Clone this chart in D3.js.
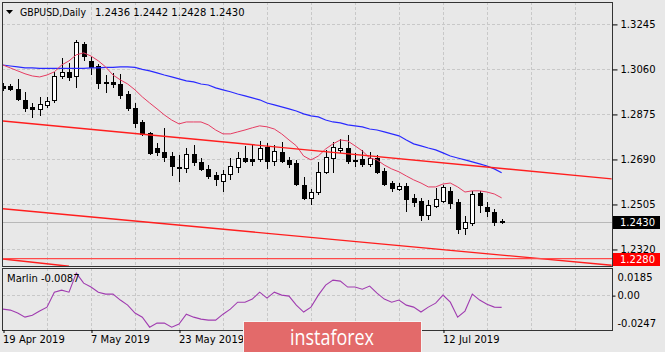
<!DOCTYPE html>
<html>
<head>
<meta charset="utf-8">
<script src="https://cdn.jsdelivr.net/npm/d3@7"></script>
<style>
body { margin: 0; background: #e8e8e8; }
text { font-family: "DejaVu Sans", sans-serif; font-size: 10px; }
</style>
</head>
<body>
<div id="chart-area"></div>
<script>
// daily GBPUSD bars, 19 Apr 2019 .. 24 Jul 2019
let opens = [1.2990,1.2990,1.2978,1.2933,1.2904,1.2896,1.2912,1.2933,1.3031,1.3048,
  1.3031,1.3163,1.3093,1.3072,1.3007,1.3007,1.2998,1.2957,1.2900,1.2842,
  1.2797,1.2735,1.2719,1.2702,1.2657,1.2653,1.2711,1.2678,1.2649,1.2624,
  1.2600,1.2628,1.2657,1.2694,1.2690,1.2690,1.2739,1.2682,1.2719,1.2686,
  1.2674,1.2583,1.2530,1.2554,1.2637,1.2694,1.2727,1.2735,1.2686,1.2690,
  1.2670,1.2694,1.2641,1.2591,1.2567,1.2579,1.2530,1.2517,1.2460,1.2497,
  1.2517,1.2559,1.2513,1.2407,1.2427,1.2550,1.2493,1.2472,1.2436];
let highs = [1.3003,1.2998,1.3019,1.2966,1.2920,1.2945,1.2945,1.3048,1.3105,1.3085,
  1.3179,1.3171,1.3109,1.3081,1.3035,1.3044,1.3040,1.2970,1.2920,1.2850,
  1.2801,1.2756,1.2818,1.2719,1.2707,1.2735,1.2748,1.2694,1.2665,1.2637,
  1.2645,1.2694,1.2719,1.2744,1.2748,1.2764,1.2756,1.2748,1.2760,1.2698,
  1.2686,1.2616,1.2567,1.2678,1.2727,1.2760,1.2772,1.2789,1.2715,1.2727,
  1.2719,1.2707,1.2653,1.2600,1.2591,1.2591,1.2546,1.2530,1.2522,1.2571,
  1.2583,1.2575,1.2526,1.2456,1.2559,1.2559,1.2513,1.2485,1.2442];
let lows = [1.2974,1.2974,1.2933,1.2887,1.2863,1.2871,1.2904,1.2924,1.3023,1.3015,
  1.2986,1.3097,1.3040,1.2982,1.2966,1.2986,1.2941,1.2892,1.2822,1.2789,
  1.2711,1.2707,1.2682,1.2624,1.2600,1.2637,1.2665,1.2645,1.2612,1.2583,
  1.2559,1.2608,1.2637,1.2678,1.2665,1.2682,1.2653,1.2665,1.2678,1.2657,
  1.2583,1.2526,1.2505,1.2546,1.2633,1.2637,1.2719,1.2674,1.2661,1.2661,
  1.2661,1.2633,1.2583,1.2559,1.2563,1.2476,1.2497,1.2439,1.2444,1.2493,
  1.2513,1.2489,1.2386,1.2382,1.2419,1.2472,1.2456,1.2419,1.2428];
let closes = [1.2982,1.2978,1.2937,1.2900,1.2896,1.2916,1.2929,1.3031,1.3048,1.3027,
  1.3171,1.3113,1.3068,1.3003,1.3003,1.2998,1.2953,1.2900,1.2838,1.2793,
  1.2715,1.2719,1.2698,1.2661,1.2653,1.2711,1.2678,1.2649,1.2620,1.2608,
  1.2628,1.2661,1.2694,1.2682,1.2682,1.2735,1.2682,1.2723,1.2682,1.2670,
  1.2587,1.2530,1.2554,1.2637,1.2698,1.2739,1.2735,1.2682,1.2682,1.2670,
  1.2694,1.2637,1.2587,1.2571,1.2579,1.2526,1.2513,1.2460,1.2501,1.2526,
  1.2575,1.2509,1.2402,1.2431,1.2546,1.2501,1.2476,1.2431,1.2430];

// moving averages
let fastMA = [1.3076,1.3064,1.3052,1.3040,1.3031,1.3027,1.3035,1.3048,1.3076,1.3093,
  1.3118,1.3126,1.3113,1.3093,1.3068,1.3035,1.3015,1.2998,1.2974,1.2945,
  1.2920,1.2896,1.2871,1.2850,1.2834,1.2842,1.2842,1.2842,1.2830,1.2809,
  1.2793,1.2793,1.2801,1.2809,1.2818,1.2826,1.2822,1.2813,1.2793,1.2768,
  1.2744,1.2702,1.2686,1.2702,1.2731,1.2752,1.2768,1.2764,1.2744,1.2723,
  1.2694,1.2686,1.2665,1.2649,1.2637,1.2620,1.2604,1.2591,1.2575,1.2575,
  1.2587,1.2591,1.2575,1.2554,1.2559,1.2559,1.2554,1.2546,1.2530];
let slowMA = [1.3076,1.3072,1.3068,1.3064,1.3064,1.3062,1.3062,1.3062,1.3062,1.3062,
  1.3062,1.3062,1.3064,1.3064,1.3066,1.3066,1.3068,1.3068,1.3066,1.3058,
  1.3052,1.3044,1.3035,1.3027,1.3019,1.3011,1.3007,1.2998,1.2994,1.2982,
  1.2974,1.2966,1.2957,1.2949,1.2941,1.2933,1.2920,1.2912,1.2904,1.2896,
  1.2887,1.2875,1.2867,1.2863,1.2850,1.2842,1.2838,1.2830,1.2826,1.2822,
  1.2813,1.2809,1.2801,1.2793,1.2785,1.2768,1.2752,1.2744,1.2735,1.2727,
  1.2715,1.2702,1.2694,1.2686,1.2678,1.2670,1.2661,1.2649,1.2633];

// Marlin oscillator
let marlin = [-0.0099,-0.0106,-0.0127,-0.0156,-0.0142,-0.0113,-0.0085,0.0021,0.0035,0.0021,
  0.0156,0.0085,0.0057,0.0021,0.0007,0.0007,-0.0035,-0.0071,-0.0127,-0.0156,
  -0.0227,-0.0198,-0.0198,-0.0227,-0.0205,-0.0135,-0.0156,-0.0170,-0.0177,-0.0177,
  -0.0135,-0.0099,-0.0050,-0.0050,-0.0028,0.0021,-0.0021,0.0021,0.0000,-0.0007,
  -0.0071,-0.0120,-0.0085,0.0000,0.0071,0.0106,0.0099,0.0057,0.0057,0.0042,
  0.0064,0.0014,-0.0028,-0.0050,-0.0035,-0.0071,-0.0085,-0.0120,-0.0085,-0.0057,
  0.0000,-0.0050,-0.0156,-0.0113,0.0007,-0.0035,-0.0064,-0.0085,-0.0087];

// drawn objects: [bar index, price]
let channelTop = [[0, 1.2846], [83, 1.2608]];
let channelBottom = [[0, 1.2485], [83, 1.2253]];
let steepLine = [[0, 1.2279], [9, 1.2249]];
let levelPrice = 1.2280;
let lastPrice = 1.2430;

let priceTicks = [1.3245, 1.3060, 1.2875, 1.2690, 1.2505, 1.2320];
let oscTicks = [0.0185, 0, -0.0247];
let dateTicks = [0, 12, 24, 60];
let dateLabels = ["19 Apr 2019", "7 May 2019", "23 May 2019", "12 Jul 2019"];

let W = 665, H = 352;
let left = 2, right = 612;
let mainTop = 2, mainBottom = 266, oscTop = 268, oscBottom = 330;

let svg = d3.select('#chart-area')
  .append('svg')
  .attr('width', W)
  .attr('height', H);

svg.append('rect').attr('width', W).attr('height', H).attr('fill', '#e8e8e8');

let x = d3.scaleLinear().domain([0, 83]).range([3, 3 + 83 * 7.333]);
let y = d3.scaleLinear().domain([1.2250, 1.3335]).range([mainBottom, mainTop]);
let yo = d3.scaleLinear().domain([-0.0247, 0.0185]).range([oscBottom, oscTop + 1]);

let defs = svg.append('defs');
defs.append('clipPath').attr('id', 'clipMain')
  .append('rect').attr('x', left).attr('y', mainTop).attr('width', right - left).attr('height', mainBottom - mainTop);
defs.append('clipPath').attr('id', 'clipOsc')
  .append('rect').attr('x', left).attr('y', oscTop).attr('width', right - left).attr('height', oscBottom - oscTop);

// grid
let grid = svg.append('g').attr('stroke', '#c8c8c8').attr('stroke-dasharray', '3,2').attr('shape-rendering', 'crispEdges');
d3.range(6, 84, 6).forEach(function(i) {
  let gx = Math.round(x(i)) + 0.5;
  grid.append('line').attr('x1', gx).attr('x2', gx).attr('y1', mainTop).attr('y2', mainBottom);
  grid.append('line').attr('x1', gx).attr('x2', gx).attr('y1', oscTop).attr('y2', oscBottom);
});
priceTicks.forEach(function(p) {
  let gy = Math.round(y(p)) + 0.5;
  grid.append('line').attr('x1', left).attr('x2', right).attr('y1', gy).attr('y2', gy);
});
grid.append('line').attr('x1', left).attr('x2', right)
  .attr('y1', Math.round(yo(0)) + 0.5).attr('y2', Math.round(yo(0)) + 0.5);

let main = svg.append('g').attr('clip-path', 'url(#clipMain)');

// last price line
main.append('line')
  .attr('x1', left).attr('x2', right)
  .attr('y1', Math.round(y(lastPrice)) + 0.5).attr('y2', Math.round(y(lastPrice)) + 0.5)
  .attr('stroke', '#b8b8b8');

// candles
let bars = closes.map(function(c, i) {
  return {i: i, o: opens[i], h: highs[i], l: lows[i], c: c};
});
let cg = main.append('g').attr('shape-rendering', 'crispEdges');
bars.forEach(function(d) {
  let cx = Math.round(x(d.i)) + 0.5;
  cg.append('line').attr('x1', cx).attr('x2', cx)
    .attr('y1', Math.round(y(d.h))).attr('y2', Math.round(y(d.l)) + 1)
    .attr('stroke', '#000');
  let top = Math.round(y(Math.max(d.o, d.c)));
  let bot = Math.round(y(Math.min(d.o, d.c)));
  if (bot - top < 1) {
    cg.append('line').attr('x1', cx - 2.5).attr('x2', cx + 2.5)
      .attr('y1', top + 0.5).attr('y2', top + 0.5).attr('stroke', '#000');
  } else {
    cg.append('rect')
      .attr('x', cx - 2).attr('y', top + 0.5)
      .attr('width', 4).attr('height', bot - top)
      .attr('fill', d.c >= d.o ? '#fff' : '#000')
      .attr('stroke', '#000');
  }
});

let maLine = d3.line().x(function(d, i) { return x(i); }).y(function(d) { return y(d); });
main.append('path').attr('d', maLine(slowMA)).attr('fill', 'none').attr('stroke', '#2a2aff').attr('stroke-width', 1.2);
main.append('path').attr('d', maLine(fastMA)).attr('fill', 'none').attr('stroke', '#e63c62').attr('stroke-width', 1);

// trend lines
let objLine = d3.line().x(function(d) { return x(d[0]); }).y(function(d) { return y(d[1]); });
[channelTop, channelBottom, steepLine].forEach(function(l) {
  main.append('path').attr('d', objLine(l)).attr('fill', 'none').attr('stroke', '#ff1e1e').attr('stroke-width', 1.4);
});
main.append('line')
  .attr('x1', left).attr('x2', right)
  .attr('y1', y(levelPrice)).attr('y2', y(levelPrice))
  .attr('stroke', '#ff4a4a').attr('stroke-width', 1.3);

// oscillator
let osc = svg.append('g').attr('clip-path', 'url(#clipOsc)');
osc.append('path')
  .attr('d', d3.line().x(function(d, i) { return x(i); }).y(function(d) { return yo(d); })(marlin))
  .attr('fill', 'none').attr('stroke', '#a03cb0').attr('stroke-width', 1.1);

// frames
svg.append('rect').attr('x', left + 0.5).attr('y', mainTop + 0.5)
  .attr('width', right - left).attr('height', mainBottom - mainTop)
  .attr('fill', 'none').attr('stroke', '#333').attr('shape-rendering', 'crispEdges');
svg.append('rect').attr('x', left + 0.5).attr('y', oscTop + 0.5)
  .attr('width', right - left).attr('height', oscBottom - oscTop)
  .attr('fill', 'none').attr('stroke', '#333').attr('shape-rendering', 'crispEdges');

// price axis
let yAxis = d3.axisRight(y).tickValues(priceTicks).tickSize(5).tickPadding(3)
  .tickFormat(function(d) { return d.toFixed(4); });
let ya = svg.append('g').attr('transform', 'translate(' + (right + 0.5) + ',0.5)').call(yAxis);
ya.select('.domain').remove();
ya.selectAll('text').attr('font-family', '"DejaVu Sans", sans-serif').attr('font-size', 10).attr('fill', '#000');

// oscillator axis
let oAxis = d3.axisRight(yo).tickValues(oscTicks).tickSize(3).tickPadding(2)
  .tickFormat(function(d) { return d === 0 ? '0.00' : d.toFixed(4); });
let oa = svg.append('g').attr('transform', 'translate(' + (right + 0.5) + ',0.5)').call(oAxis);
oa.select('.domain').remove();
oa.selectAll('text').attr('font-family', '"DejaVu Sans", sans-serif').attr('font-size', 10).attr('fill', '#000')
  .attr('dy', function(d) { return d > 0.01 ? '1.05em' : (d < -0.01 ? '-0.4em' : '0.32em'); });
oa.selectAll('.tick line').attr('opacity', function(d) { return d === 0 ? 1 : 0; });

// date axis
let xAxis = d3.axisBottom(x).tickValues(dateTicks).tickSize(3).tickPadding(3)
  .tickFormat(function(d, i) { return dateLabels[i]; });
let xa = svg.append('g').attr('transform', 'translate(0.5,' + oscBottom + ')').call(xAxis);
xa.select('.domain').remove();
xa.selectAll('text').attr('font-family', '"DejaVu Sans", sans-serif').attr('font-size', 10).attr('fill', '#000')
  .attr('text-anchor', 'start').attr('x', -1);

// price boxes
function priceBox(p, fill) {
  let cy = Math.round(y(p));
  svg.append('rect').attr('x', right + 1).attr('y', cy - 6).attr('width', 47).attr('height', 13).attr('fill', fill);
  svg.append('text').attr('x', 620).attr('y', cy + 4).attr('fill', '#fff').text(p.toFixed(4));
}
priceBox(lastPrice, '#000');
priceBox(levelPrice, '#ff0000');

// header
svg.append('path').attr('d', 'M6,10 L13,10 L9.5,14 Z').attr('fill', '#000');
svg.append('text').attr('x', 20).attr('y', 16).attr('fill', '#000')
  .attr('textLength', 66).attr('lengthAdjust', 'spacingAndGlyphs').text('GBPUSD,Daily');
svg.append('text').attr('x', 95).attr('y', 16).attr('fill', '#000')
  .text([opens[68], highs[68], lows[68], closes[68]].map(function(v) { return v.toFixed(4); }).join(' '));
svg.append('text').attr('x', 7).attr('y', 282).attr('fill', '#000')
  .text('Marlin ' + marlin[marlin.length - 1].toFixed(4));

// watermark banner
svg.append('rect').attr('x', 243.5).attr('y', 321.5).attr('width', 178).attr('height', 32)
  .attr('fill', '#e36a6a').attr('stroke', '#f4f4f4');
svg.append('text').attr('x', 332).attr('y', 345).attr('text-anchor', 'middle')
  .attr('fill', '#fff').style('font-family', '"Open Sans", sans-serif').style('font-size', '22px')
  .attr('textLength', 84).attr('lengthAdjust', 'spacingAndGlyphs')
  .text('instaforex');
</script>
</body>
</html>
